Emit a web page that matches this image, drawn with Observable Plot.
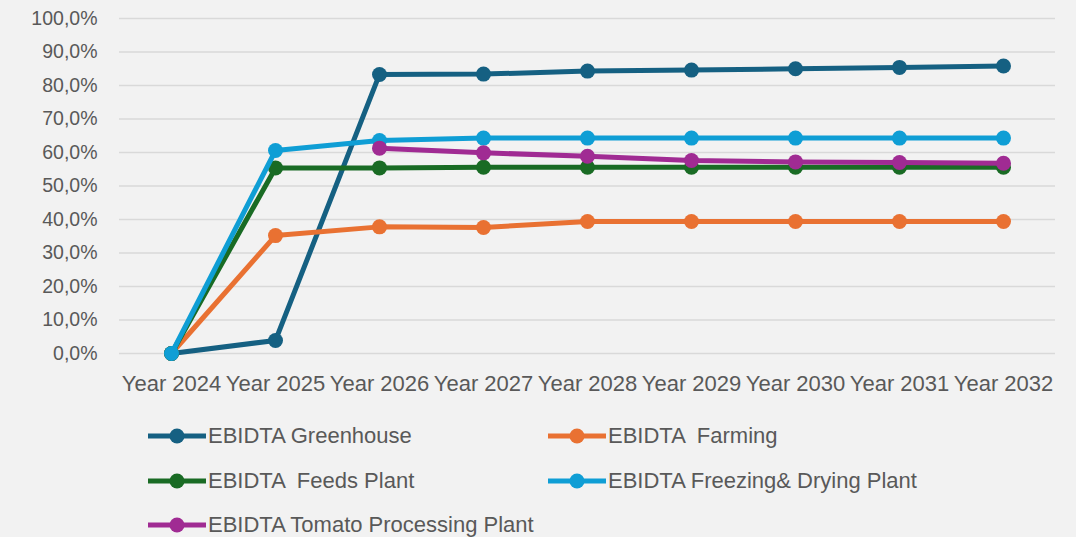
<!DOCTYPE html>
<html>
<head>
<meta charset="utf-8">
<script src="https://cdn.jsdelivr.net/npm/d3@7"></script>
<script src="https://cdn.jsdelivr.net/npm/@observablehq/plot@0.6"></script>
<style>
  html, body { margin: 0; padding: 0; background: #f2f2f2; }
  #wrap { position: relative; width: 1076px; height: 537px; background: #f2f2f2; overflow: hidden; font-family: "Liberation Sans", Arial, sans-serif; }
  #chart { position: absolute; left: 0; top: 0; }
  .leg { position: absolute; display: flex; align-items: center; font-size: 22px; color: #595959; white-space: pre; }
  .leg svg { margin-right: 2px; }
</style>
</head>
<body>
<div id="wrap"><div id="chart"></div></div>
<script>
const years = ["Year 2024","Year 2025","Year 2026","Year 2027","Year 2028","Year 2029","Year 2030","Year 2031","Year 2032"];
const seriesNames = ["EBIDTA Greenhouse","EBIDTA  Farming","EBIDTA  Feeds Plant","EBIDTA Freezing& Drying Plant","EBIDTA Tomato Processing Plant"];
const colors = ["#156082","#e97132","#196b24","#0f9ed5","#a02b93"];
const greenhouse = [0, 3.9, 83.3, 83.4, 84.3, 84.6, 85.0, 85.4, 85.8];
const farming    = [0, 35.2, 37.8, 37.6, 39.4, 39.4, 39.4, 39.4, 39.4];
const feeds      = [0, 55.4, 55.4, 55.6, 55.6, 55.6, 55.6, 55.6, 55.6];
const freezing   = [0, 60.6, 63.6, 64.3, 64.3, 64.3, 64.3, 64.3, 64.3];
const tomato     = [null, null, 61.3, 59.9, 58.9, 57.6, 57.2, 57.0, 56.8];
const yTicks = [0,10,20,30,40,50,60,70,80,90,100];

const allSeries = [greenhouse, farming, feeds, freezing, tomato];
const data = [];
allSeries.forEach((vals, si) => {
  vals.forEach((v, i) => {
    if (v !== null) data.push({series: seriesNames[si], year: years[i], value: v});
  });
});

const fmt = d => d.toFixed(1).replace(".", ",") + "%";

const marks = [
  Plot.gridY(yTicks, {stroke: "#d9d9d9", strokeOpacity: 1, strokeWidth: 1.5}),
  Plot.axisY(yTicks, {tickSize: 0, tickPadding: 22, tickFormat: fmt, fontSize: 19.5, fill: "#595959", label: null}),
  Plot.axisX({tickSize: 0, tickPadding: 22, fontSize: 22, fill: "#595959", label: null})
];
seriesNames.forEach((name, si) => {
  const d = data.filter(r => r.series === name);
  marks.push(Plot.line(d, {x: "year", y: "value", stroke: colors[si], strokeWidth: 5}));
  marks.push(Plot.dot(d, {x: "year", y: "value", fill: colors[si], r: 7.5}));
});

const chart = Plot.plot({
  width: 1076,
  height: 400,
  marginLeft: 119,
  marginRight: 21,
  marginTop: 18,
  marginBottom: 47,
  style: {background: "transparent", fontFamily: "Liberation Sans, Arial, sans-serif", color: "#595959"},
  x: {type: "point", domain: years, padding: 0.5},
  y: {domain: [0, 100]},
  marks
});
document.getElementById("chart").appendChild(chart);

// legend
const legPos = [[148, 436],[548, 436],[148, 481],[548, 481],[148, 525]];
const wrap = document.getElementById("wrap");
seriesNames.forEach((name, si) => {
  const div = document.createElement("div");
  div.className = "leg";
  div.style.left = legPos[si][0] + "px";
  div.style.top = (legPos[si][1] - 13) + "px";
  div.style.height = "26px";
  div.innerHTML = `<svg width="58" height="18"><line x1="0" x2="58" y1="9" y2="9" stroke="${colors[si]}" stroke-width="5"/><circle cx="29" cy="9" r="7.5" fill="${colors[si]}"/></svg>`;
  const span = document.createElement("span");
  span.textContent = name;
  div.appendChild(span);
  wrap.appendChild(div);
});
</script>
</body>
</html>
